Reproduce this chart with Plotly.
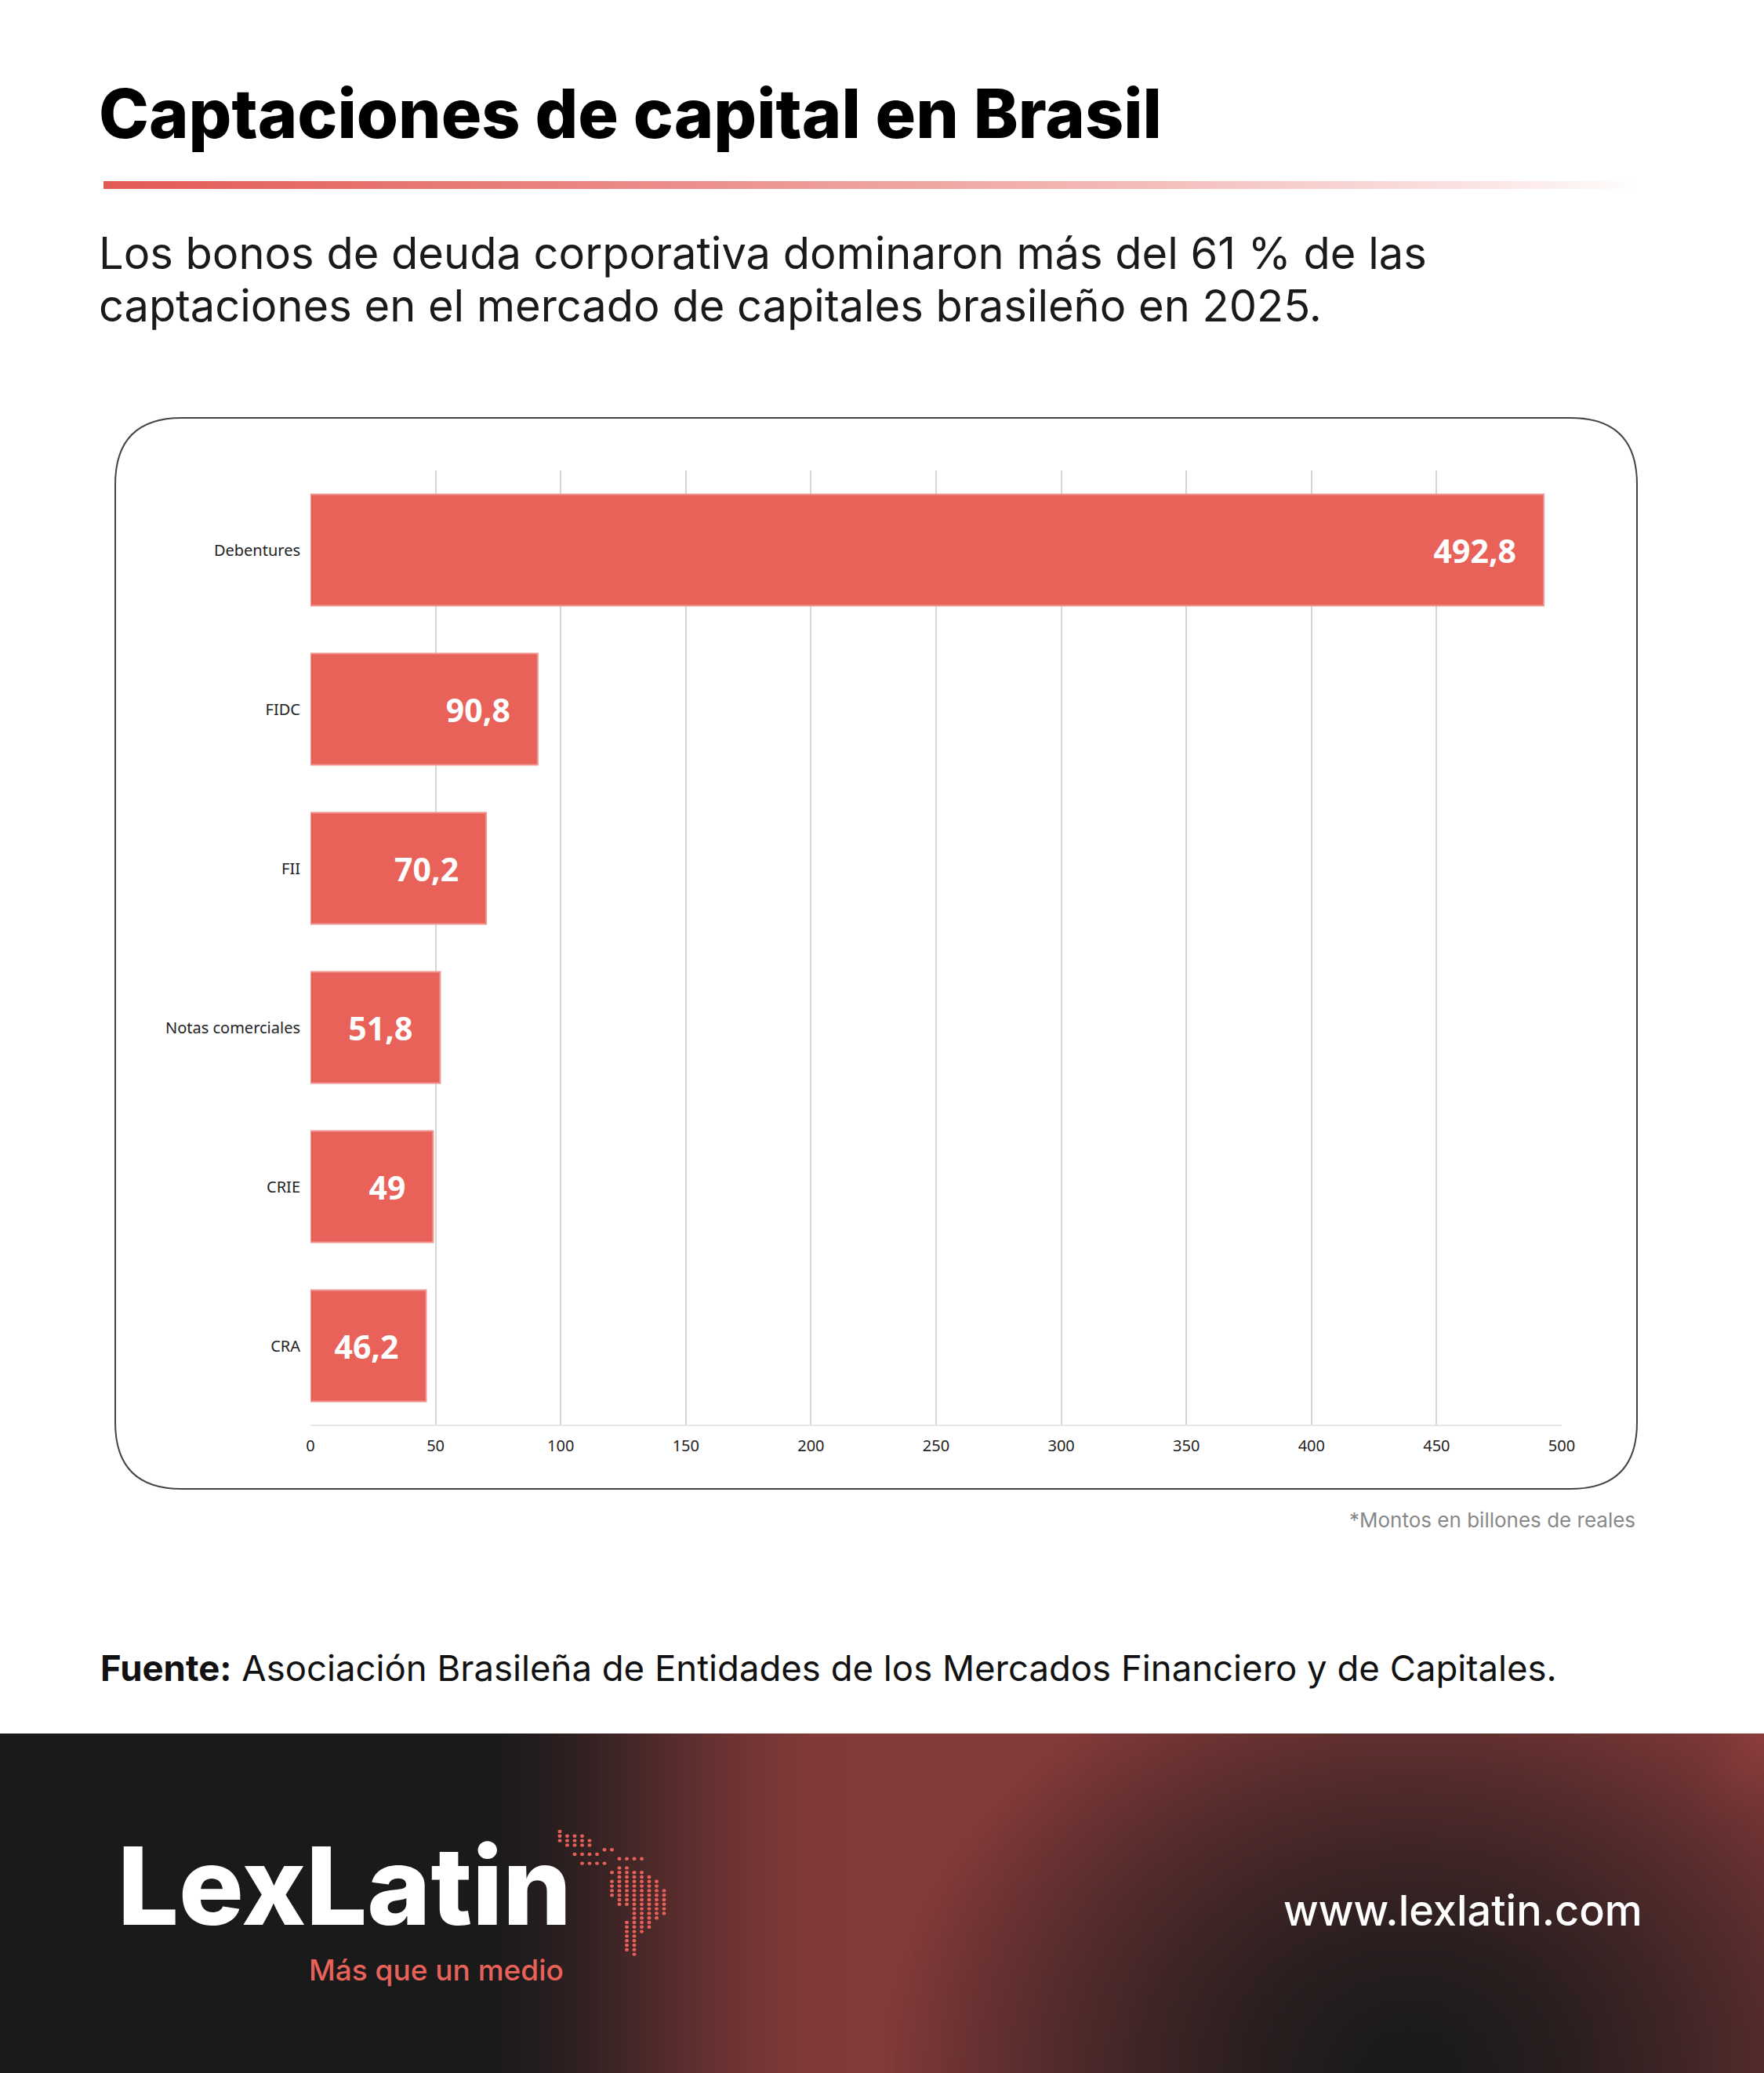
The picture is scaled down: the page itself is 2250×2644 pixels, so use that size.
import base64
import struct
import zlib

import numpy as np
import plotly.graph_objects as go

W, H = 2250, 2644

categories = ["Debentures", "FIDC", "FII", "Notas comerciales", "CRIE", "CRA"]
values = [492.8, 90.8, 70.2, 51.8, 49, 46.2]
labels = ["492,8", "90,8", "70,2", "51,8", "49", "46,2"]
x_ticks = [0, 50, 100, 150, 200, 250, 300, 350, 400, 450, 500]

RED = "#e8625a"


def png_uri(rgba):
    """encode uint8 HxWx4 array as png data uri"""
    h, w, _ = rgba.shape
    raw = b"".join(b"\x00" + rgba[i].tobytes() for i in range(h))

    def chunk(tag, data):
        c = tag + data
        return struct.pack(">I", len(data)) + c + struct.pack(">I", zlib.crc32(c) & 0xffffffff)

    png = b"\x89PNG\r\n\x1a\n" + chunk(b"IHDR", struct.pack(">IIBBBBB", w, h, 8, 6, 0, 0, 0))
    png += chunk(b"IDAT", zlib.compress(raw, 9)) + chunk(b"IEND", b"")
    return "data:image/png;base64," + base64.b64encode(png).decode()


# footer background
fw, fh = 450, 87
xx, yy = np.meshgrid(np.linspace(0, 1, fw), np.linspace(0, 1, fh))
dark = np.array([26, 26, 27.0])
red = np.array([132, 58, 58.0])
t = np.clip((xx - 0.26) / 0.22, 0, 1)
t = t * t * (3 - 2 * t)
d = np.sqrt(((xx - 0.8) / 0.3) ** 2 + ((yy - 1.0) / 1.3) ** 2)
t = t * np.clip(d, 0, 1) ** 1.5
t = np.maximum(t, np.clip(1 - np.sqrt(((xx - 1.0) / 0.16) ** 2 + (yy / 0.9) ** 2), 0, 1) * 1.1)
t = np.clip(t, 0, 1.12)
img = np.clip(dark + (red - dark) * t[..., None], 0, 255)
footer = np.dstack([img, np.full((fh, fw), 255.0)]).astype(np.uint8)

# title underline gradient
lw = 400
a = np.clip(1 - np.linspace(0, 1, lw), 0, 1) ** 0.8 * 255
line = np.zeros((1, lw, 4), np.uint8)
line[..., 0], line[..., 1], line[..., 2] = 226, 90, 84
line[0, :, 3] = a.astype(np.uint8)

fig = go.Figure()
fig.add_trace(
    go.Bar(
        y=categories,
        x=values,
        orientation="h",
        width=0.7,
        marker=dict(color=RED, line=dict(color="#f0958f", width=2)),
        text=[l + "\u00a0\u00a0\u00a0" for l in labels],
        textposition="inside",
        insidetextanchor="end",
        textangle=0,
        textfont=dict(family="Noto Sans", size=41, color="white", weight="bold"),
        cliponaxis=False,
        hoverinfo="skip",
    )
)

fig.update_layout(
    width=W,
    height=H,
    margin=dict(l=396, r=258, t=600, b=826),
    paper_bgcolor="white",
    plot_bgcolor="white",
    showlegend=False,
    font=dict(family="Noto Sans", color="#222"),
    xaxis=dict(range=[0, 500], tickvals=x_ticks, showgrid=True, gridcolor="#d6d6d6",
               gridwidth=2, zeroline=False, showline=False, ticks="",
               tickfont=dict(size=20, family="Noto Sans", color="#222"), ticklabelstandoff=12),
    yaxis=dict(autorange=False, range=[5.5, -0.5], categoryorder="array",
               categoryarray=categories, showline=False, ticks="",
               tickfont=dict(size=20, family="Noto Sans", color="#222"), ticklabelstandoff=12),
)
fig.add_shape(type="line", xref="paper", yref="paper", x0=0, x1=1, y0=0, y1=0,
              line=dict(color="#e6e6e6", width=2))

# map figure pixels to paper units (paper spans the plot area)
pl, pr, pt, pb = 396, W - 258, 600, H - 826


def fx(v):
    return (v - pl) / (pr - pl)


def fy(v):
    return (pb - v) / (pb - pt)


# rounded chart box
x0, x1, y0, y1, r = 147, 2088, 533, 1899, 85
box = (f"M{fx(x0 + r)},{fy(y0)} L{fx(x1 - r)},{fy(y0)} Q{fx(x1)},{fy(y0)} {fx(x1)},{fy(y0 + r)} "
       f"L{fx(x1)},{fy(y1 - r)} Q{fx(x1)},{fy(y1)} {fx(x1 - r)},{fy(y1)} L{fx(x0 + r)},{fy(y1)} "
       f"Q{fx(x0)},{fy(y1)} {fx(x0)},{fy(y1 - r)} L{fx(x0)},{fy(y0 + r)} Q{fx(x0)},{fy(y0)} {fx(x0 + r)},{fy(y0)} Z")
fig.add_shape(type="path", xref="paper", yref="paper", path=box,
              line=dict(color="#444", width=2), layer="below")

# footer band and underline
fig.add_layout_image(source=png_uri(footer), xref="paper", yref="paper", x=fx(0), y=fy(2211),
                     sizex=fx(W) - fx(0), sizey=fy(2211) - fy(H), sizing="stretch",
                     xanchor="left", yanchor="top", layer="below")
fig.add_layout_image(source=png_uri(line), xref="paper", yref="paper", x=fx(132), y=fy(231),
                     sizex=fx(2092) - fx(132), sizey=fy(231) - fy(241), sizing="stretch",
                     xanchor="left", yanchor="top", layer="below")
fig.add_shape(type="circle", xref="paper", yref="paper", x0=fx(132), x1=fx(142), y0=fy(231), y1=fy(241),
              fillcolor="#e25a54", line=dict(width=0))


def text(x, y, s, size, color="#111", family="Inter", weight="normal", xanchor="left"):
    fig.add_annotation(x=fx(x), y=fy(y), xref="paper", yref="paper", text=s, showarrow=False,
                       xanchor=xanchor, yanchor="middle", align=xanchor,
                       font=dict(size=size, color=color, family=family, weight=weight))


text(124, 145, "Captaciones de capital en Brasil", 86, "#000", weight=800)
text(124, 323, "Los bonos de deuda corporativa dominaron más del 61 % de las", 56, "#1a1a1a")
text(124, 390, "captaciones en el mercado de capitales brasileño en 2025.", 56, "#1a1a1a")
text(2088, 1938, "*Montos en billones de reales", 26, "#888", xanchor="right")
text(126, 2127, "<b>Fuente:</b> Asociación Brasileña de Entidades de los Mercados Financiero y de Capitales.",
     45.5, "#111")
text(148, 2404, "LexLatin", 138, "white", weight=800)
text(392, 2512, "Más que un medio", 37, RED, weight=500)
text(2097, 2436, "www.lexlatin.com", 54, "white", weight=500, xanchor="right")

# dotted map (logo decoration)
rows = [(0, 0), (0, 3), (0, 4), (1, 4), (6, 7), (2, 5), (8, 11), (3, 6), (8, 9), (7, 11), (8, 12),
        (7, 13), (7, 13), (7, 14), (7, 14), (8, 14), (8, 14), (10, 14), (10, 14), (10, 13), (9, 12),
        (9, 12), (9, 11), (9, 10), (9, 10), (9, 10), (9, 10), (10, 10)]
dx, dy = 9.5, 5.8
mx0, my0 = 714, 2336
for i, (a0, a1) in enumerate(rows):
    for j in range(a0, a1 + 1):
        cx, cy = mx0 + j * dx, my0 + i * dy
        fig.add_shape(type="circle", xref="paper", yref="paper", x0=fx(cx - 2.5), x1=fx(cx + 2.5),
                      y0=fy(cy - 2.2), y1=fy(cy + 2.2), fillcolor="#e8605a", line=dict(width=0))

fig.write_html("out.html", config={"displayModeBar": False},
               post_script="document.body.style.margin='0px';")
